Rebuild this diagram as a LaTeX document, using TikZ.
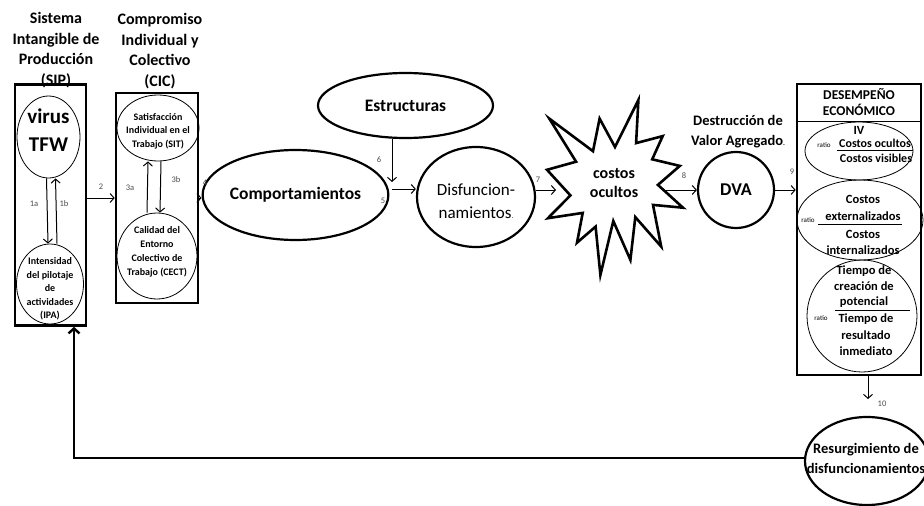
\documentclass[tikz,border=0pt]{standalone}
\usepackage{fontspec}
\setmainfont{Carlito}
\usetikzlibrary{arrows.meta,shapes.geometric,calc}
\begin{document}
\begin{tikzpicture}[x=1pt,y=-1pt,
  thickbox/.style={draw, line width=2.6pt, rectangle, inner sep=0},
  bigell/.style={draw, line width=2.2pt, ellipse, inner sep=0},
  thinell/.style={draw, line width=0.8pt, ellipse, inner sep=0},
  arr/.style={-{Straight Barb[length=4pt,width=9pt]}, line width=1pt},
  fbarr/.style={-{Straight Barb[length=5pt,width=11pt]}, line width=2.4pt},
  lab/.style={font=\fontsize{8.5}{9}\selectfont, text=black!70, inner sep=0},
  ttl/.style={font=\fontsize{16}{20.5}\selectfont\bfseries, align=center, inner sep=0},
  small/.style={font=\fontsize{10}{13.5}\selectfont\bfseries, align=center, inner sep=0},
  mid/.style={font=\fontsize{12.5}{16.5}\selectfont\bfseries, align=center, inner sep=0},
  ratiotxt/.style={font=\fontsize{7}{8}\selectfont, inner sep=0},
  fracline/.style={line width=0.9pt}
]
\useasboundingbox (0,0) rectangle (924,506);

% titles
\node[ttl] (tsip) at (56,50) {Sistema\\Intangible de\\Producción\\(SIP)};
\node[ttl] (tcic) at (160,51) {Compromiso\\Individual y\\Colectivo\\(CIC)};

% SIP box
\node[thickbox, minimum width=71pt, minimum height=241pt] (sip) at (50.5,205) {};
\node[thinell, minimum width=63pt, minimum height=82pt] (virus) at (48.5,137) {};
\node[font=\fontsize{21}{28}\selectfont\bfseries, align=center, inner sep=0] (virust) at (48.5,130) {virus\\TFW};
\node[thinell, minimum width=67pt, minimum height=80pt] (ipa) at (50,284) {};
\node[small] (ipat) at (50,289) {Intensidad\\del pilotaje\\de\\actividades\\(IPA)};
\draw[arr] ([xshift=-2pt]virus.south) -- ([xshift=-2pt]ipa.north);
\draw[arr] ([xshift=7pt]ipa.north) -- ([xshift=7pt]virus.south);
\node[lab] (l1a) at (34,204) {1a};
\node[lab] (l1b) at (64,204) {1b};

% CIC box
\node[thickbox, minimum width=82pt, minimum height=210pt] (cic) at (157,198) {};
\node[thinell, minimum width=82pt, minimum height=66pt] (sit) at (158,128) {};
\node[small] (sitt) at (158,131) {Satisfacción\\Individual en el\\Trabajo (SIT)};
\node[thinell, minimum width=80pt, minimum height=86pt] (cect) at (157,256) {};
\node[small, font=\fontsize{10}{14}\selectfont\bfseries] (cectt) at (157,252) {Calidad del\\Entorno\\Colectivo de\\Trabajo (CECT)};
\draw[arr] ([xshift=-10pt]cect.north) -- ([xshift=-10pt]sit.south);
\draw[arr] ([xshift=3pt]sit.south) -- ([xshift=3pt]cect.north);
\node[lab] (l3a) at (130,188) {3a};
\node[lab] (l3b) at (176,180) {3b};

\draw[arr] (sip.east |- cic.west) -- (cic.west);
\node[lab] (l2) at (101,187) {2};

% Comportamientos, Estructuras, Disfuncionamientos
\node[bigell, minimum width=157pt, minimum height=90pt, font=\fontsize{17.5}{21}\selectfont\bfseries] (comp) at (295.5,195) {Comportamientos};
\draw[arr] (cic.east) -- (cic.east -| comp.west);
\node[lab] (l4) at (205,183) {4};

\node[bigell, minimum width=175pt, minimum height=65pt, font=\fontsize{17.5}{21}\selectfont\bfseries] (estr) at (405.5,105.5) {Estructuras};

\node[bigell, minimum width=118pt, minimum height=100pt] (disf) at (476,197) {};
\node[font=\fontsize{17}{23}\selectfont, align=center, inner sep=0] (disft) at (476,201) {Disfuncion-\\namientos{\fontsize{7}{8}\selectfont .}};

\coordinate (y5) at (0,189);
\draw[arr] ([xshift=3pt]comp.east |- y5) -- (disf.west |- y5);
\node[lab] (l5) at (383,201) {5};
\coordinate (t6) at (392,182);
\draw[arr] (estr.south -| t6) -- (t6);
\node[lab] (l6) at (379,160) {6};

% star
\draw[line width=2.6pt, line join=miter, miter limit=20]
  (615.0,147.0) -- (638.4,100.0) -- (636.1,143.1) -- (662.7,136.1) -- (652.2,159.3)
  -- (679.8,165.9) -- (657.9,184.9) -- (683.0,207.7) -- (653.0,204.9) -- (661.2,246.6)
  -- (635.3,217.1) -- (630.4,259.9) -- (613.3,221.0) -- (600.4,275.0) -- (595.6,226.6)
  -- (577.0,242.7) -- (582.7,212.9) -- (547.9,218.2) -- (570.4,195.4) -- (547.0,169.8)
  -- (576.1,161.7) -- (549.3,118.6) -- (593.0,151.2) -- (599.6,118.6) -- cycle;
\node[font=\fontsize{16}{19.5}\selectfont\bfseries, align=center, inner sep=0] (costos) at (614,183) {costos\\ocultos};
\coordinate (t7) at (556,190);
\draw[arr] (disf.east |- t7) -- (t7);
\node[lab] (l7) at (538,180) {7};

% DVA
\node[draw, circle, line width=2.2pt, minimum size=76pt, inner sep=0, font=\fontsize{18}{21}\selectfont\bfseries] (dva) at (736,190) {DVA};
\node[font=\fontsize{14.5}{20}\selectfont\bfseries, align=center, inner sep=0] (dvat) at (738,132) {Destrucción de\\Valor Agregado{\fontsize{7}{8}\selectfont .}};
\coordinate (s8) at (664,190);
\draw[arr] (s8) -- (dva.west);
\node[lab] (l8) at (684,176) {8};

% DESEMPENO box
\node[thickbox, minimum width=124pt, minimum height=291pt] (desemp) at (859,229.5) {};
\node[font=\fontsize{13.5}{15.5}\selectfont\bfseries, align=center, inner sep=0] (dest) at (859,102) {DESEMPEÑO\\ECONÓMICO};
\draw[line width=0.9pt] (desemp.west |- 0,121) -- (desemp.east |- 0,121);
\draw[arr] (dva.east) -- (dva.east -| desemp.west);
\node[lab] (l9) at (792,172) {9};

% IV
\node[thinell, minimum width=108pt, minimum height=58pt] (iv) at (859,151) {};
\node[mid, font=\fontsize{12.5}{14}\selectfont\bfseries] (ivt) at (859,130.5) {IV};
\node[mid, font=\fontsize{12}{14}\selectfont\bfseries] (ivn) at (875,143) {Costos ocultos};
\node[mid, font=\fontsize{12}{14}\selectfont\bfseries] (ivd) at (876,158) {Costos visibles};
\draw[fracline] (837,150) -- (913,150);
\node[ratiotxt] (ivr) at (824,145) {ratio};

% externalizados
\node[thinell, minimum width=126pt, minimum height=80pt] (ext) at (860,220) {};
\node[mid] (extn) at (863,208) {Costos\\externalizados};
\node[mid] (extd) at (863,242.5) {Costos\\internalizados};
\draw[fracline] (818,224) -- (902,224);
\node[ratiotxt] (extr) at (808,220) {ratio};

% tiempo
\node[thinell, minimum width=110pt, minimum height=112pt] (tie) at (862,316) {};
\node[mid, font=\fontsize{12.5}{15.5}\selectfont\bfseries] (tien) at (864,287) {Tiempo de\\creación de\\potencial};
\node[mid, font=\fontsize{12.5}{16.5}\selectfont\bfseries] (tied) at (866,335) {Tiempo de\\resultado\\inmediato};
\draw[fracline] (835,310) -- (910,310);
\node[ratiotxt] (tier) at (821,318) {ratio};

% Resurgimiento
\node[bigell, minimum width=124pt, minimum height=88pt] (res) at (867,461) {};
\node[font=\fontsize{14.5}{20}\selectfont\bfseries, align=center, inner sep=0] (rest) at (866,458) {Resurgimiento de\\disfuncionamientos};
\coordinate (a10) at (868,399);
\draw[arr] (desemp.south -| a10) -- (a10);
\node[lab] (l10) at (882,404) {10};

% feedback
\draw[fbarr] (res.west |- 0,458) -| ([xshift=23.5pt]sip.south);
\end{tikzpicture}
\end{document}
